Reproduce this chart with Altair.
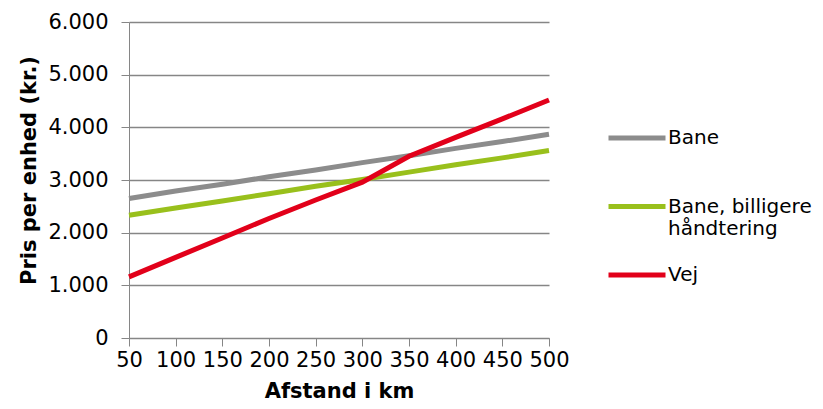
import altair as alt
import pandas as pd

afstand = [50, 100, 150, 200, 250, 300, 350, 400, 450, 500]
bane = [2650, 2790, 2920, 3060, 3190, 3330, 3460, 3600, 3730, 3870]
bane_billig = [2330, 2470, 2600, 2740, 2880, 3010, 3150, 3290, 3420, 3560]
vej = [1160, 1530, 1900, 2270, 2620, 2960, 3450, 3810, 4160, 4520]
series = ["Bane", "Bane, billigere håndtering", "Vej"]
colors = ["#8C8C8C", "#99C01C", "#E2001A"]
y_ticks = [0, 1000, 2000, 3000, 4000, 5000, 6000]

rows = []
for name, vals in zip(series, [bane, bane_billig, vej]):
    for a, v in zip(afstand, vals):
        rows.append({"Afstand": a, "Pris": v, "Serie": name})
df = pd.DataFrame(rows)

FONT = "DejaVu Sans"
FS = 21

chart = alt.Chart(df).mark_line(strokeWidth=5, strokeCap="butt").encode(
    x=alt.X("Afstand:Q",
            scale=alt.Scale(domain=[50, 500], nice=False, zero=False),
            axis=alt.Axis(values=afstand, title="Afstand i km", grid=False,
                          labelFontSize=FS, titleFontSize=FS, titleFontWeight="bold",
                          labelFont=FONT, titleFont=FONT, labelColor="#000", titleColor="#000",
                          domainColor="#868686", tickColor="#868686", tickSize=8,
                          labelPadding=3, titleBaseline="alphabetic", titleY=59,
                          labelFlush=False)),
    y=alt.Y("Pris:Q",
            scale=alt.Scale(domain=[0, 6000], nice=False),
            axis=alt.Axis(values=y_ticks, title="Pris per enhed (kr.)",
                          labelExpr="replace(format(datum.value, ','), ',', '.')",
                          labelFontSize=FS, titleFontSize=FS, titleFontWeight="bold",
                          labelFont=FONT, titleFont=FONT, labelColor="#000", titleColor="#000",
                          domainColor="#868686", tickColor="#868686", tickSize=8,
                          gridColor="#868686", gridWidth=1.5,
                          labelPadding=13, titleX=-90, titleY=148)),
    color=alt.Color("Serie:N",
                    scale=alt.Scale(domain=series, range=colors),
                    sort=series,
                    legend=alt.Legend(title=None, orient="none", legendX=477, legendY=85,
                                      symbolType="stroke", symbolSize=3249, symbolStrokeWidth=5,
                                      labelFontSize=20, labelFont=FONT, labelColor="#000",
                                      labelOffset=0, rowPadding=5.5,
                                      labelLimit=300,
                                      labelExpr="datum.label == 'Bane, billigere håndtering' ? ['Bane, billigere', 'håndtering'] : [datum.label, '']")),
).properties(
    width=420, height=316,
    autosize=alt.AutoSizeParams(type="none"),
    padding={"left": 121, "top": 14, "right": 266, "bottom": 63},
).configure_view(stroke=None)

chart.save("out.html", embed_options={"renderer": "svg", "actions": False})
